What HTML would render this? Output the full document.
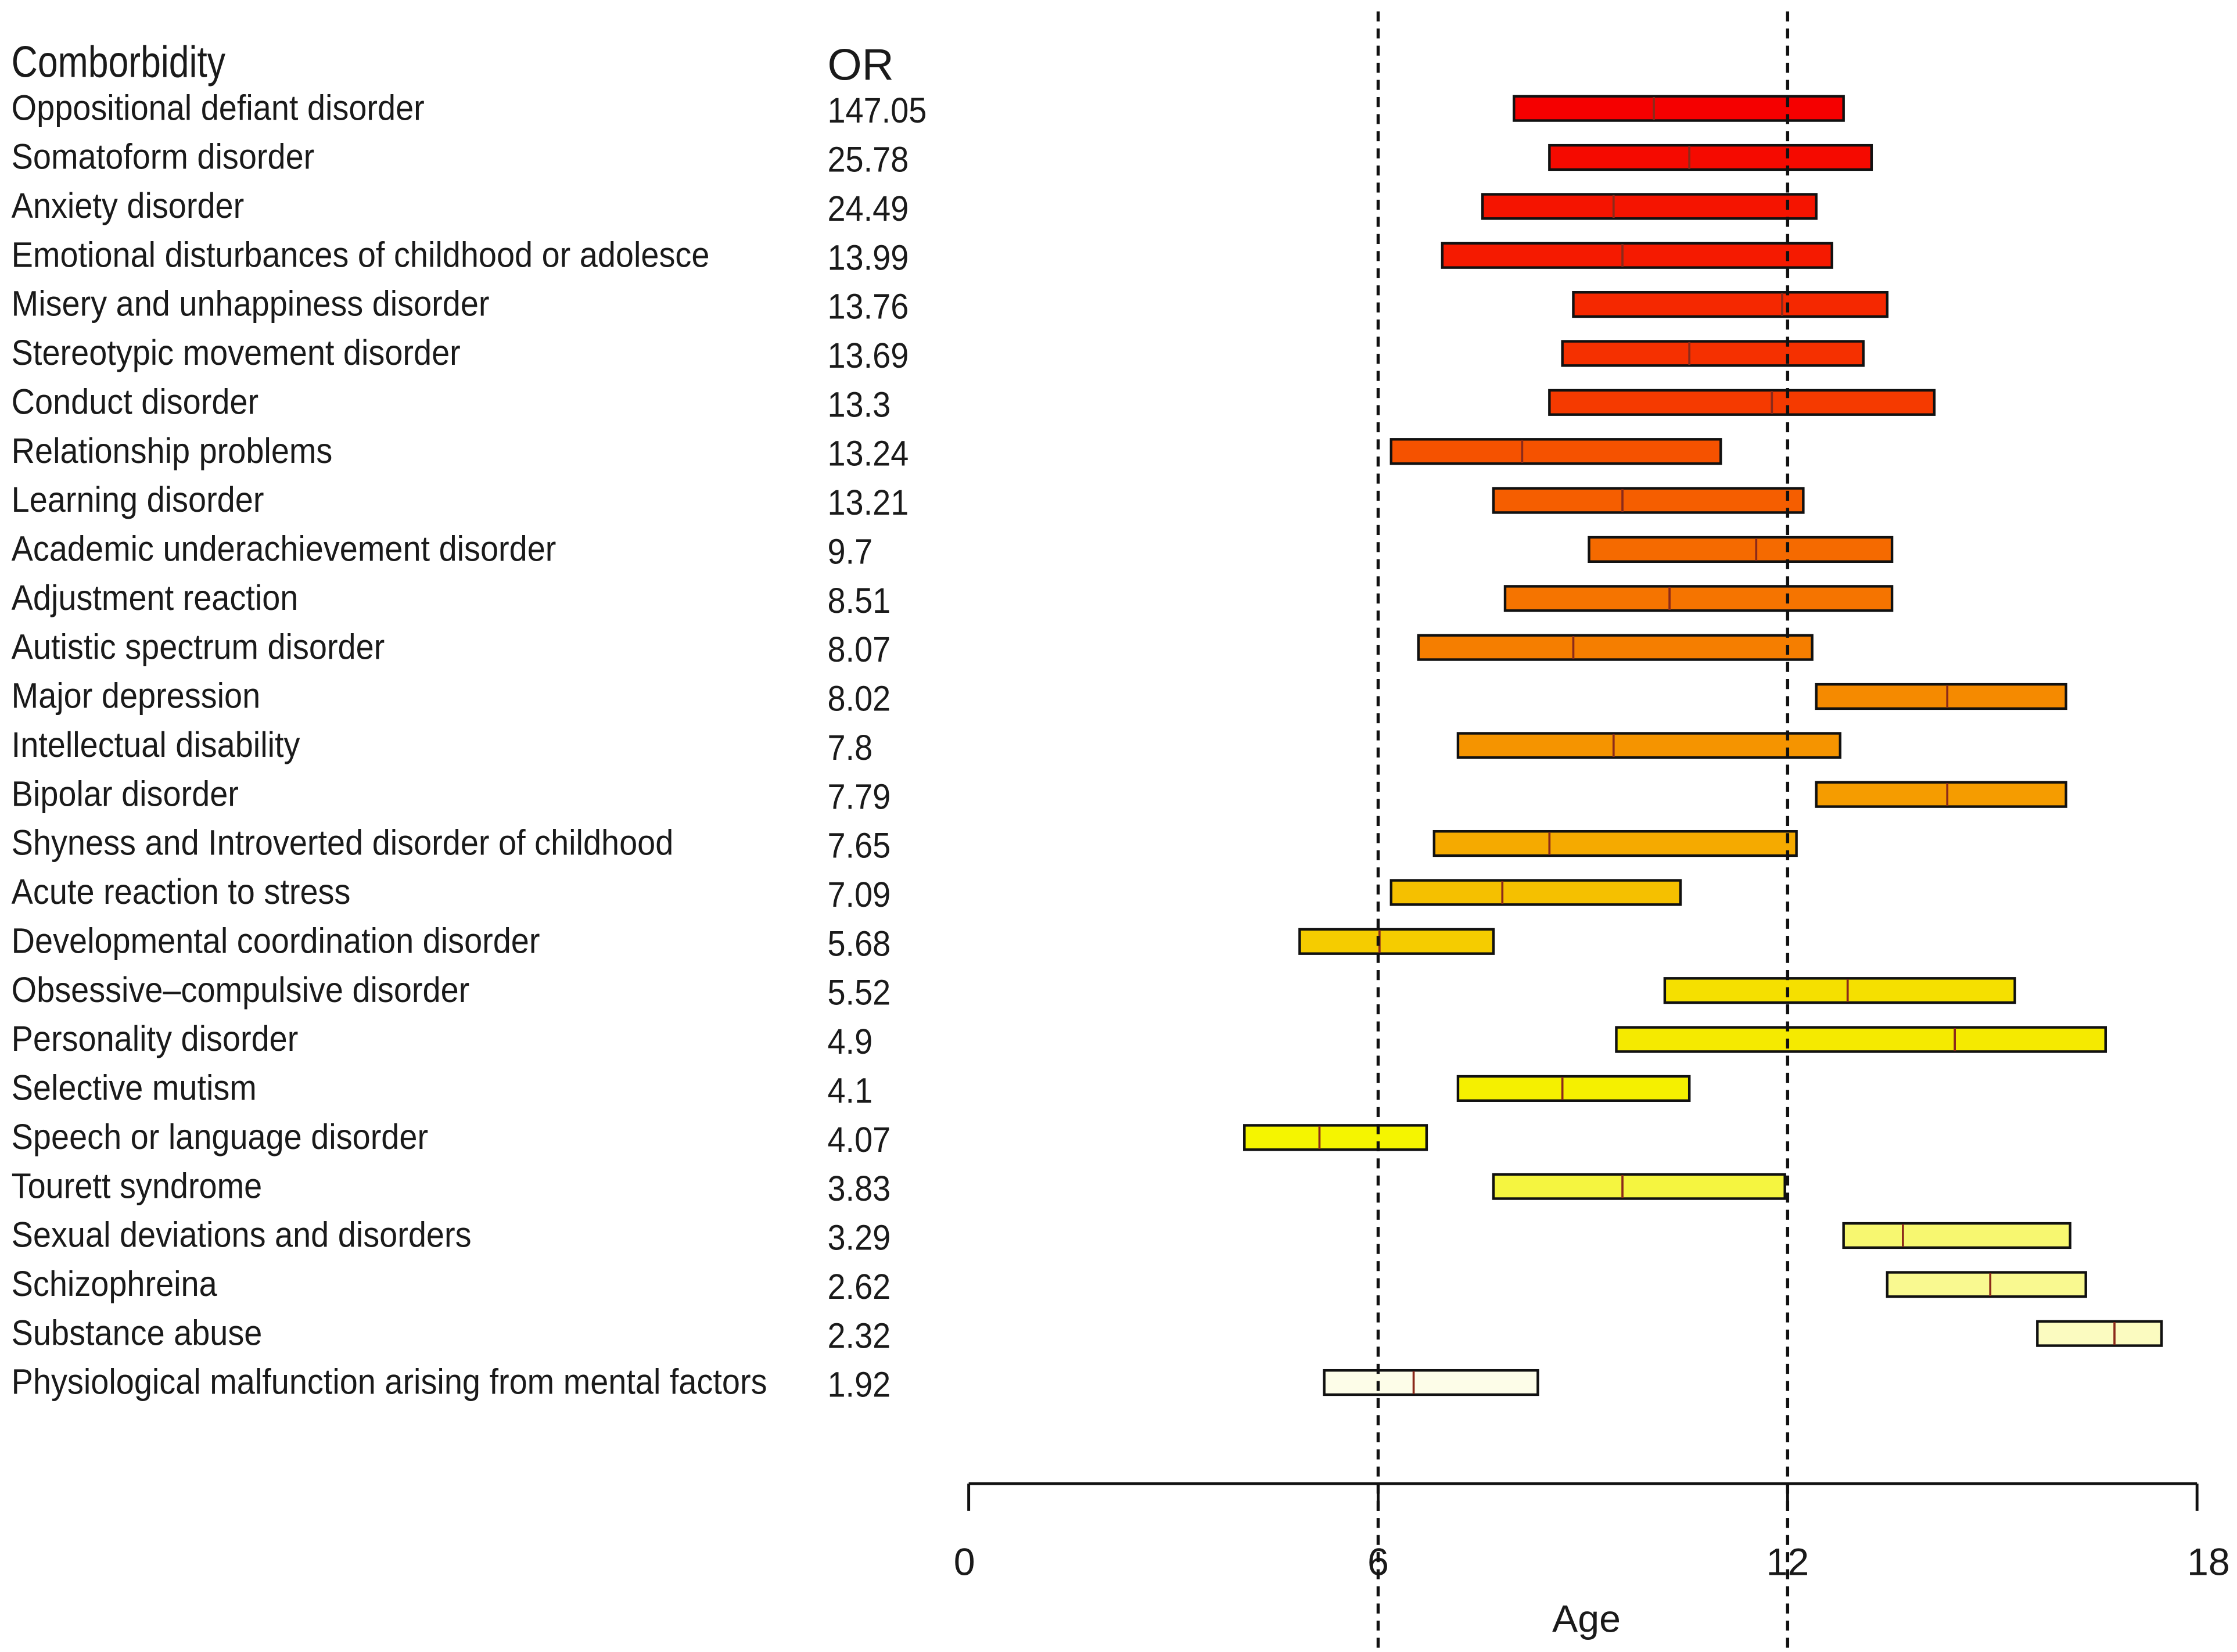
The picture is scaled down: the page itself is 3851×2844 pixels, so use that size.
<!DOCTYPE html>
<html><head><meta charset="utf-8">
<style>
html,body{margin:0;padding:0;background:#fff;}
svg{display:block;}
text{font-family:"Liberation Sans Narrow","Liberation Sans",sans-serif;fill:#1a1a1a;}
</style></head>
<body>
<svg id="chart" width="3851" height="2844" viewBox="0 0 1568 1158" xmlns="http://www.w3.org/2000/svg">
<text x="8" y="54" font-size="31" textLength="150" lengthAdjust="spacingAndGlyphs">Comborbidity</text>
<text x="580" y="56" font-size="31">OR</text>
<g id="rows"></g>
<g id="axis"></g>
</svg>
<script>
const labels=["Oppositional defiant disorder","Somatoform disorder","Anxiety disorder","Emotional disturbances of childhood or adolesce","Misery and unhappiness disorder","Stereotypic movement disorder","Conduct disorder","Relationship problems","Learning disorder","Academic underachievement disorder","Adjustment reaction","Autistic spectrum disorder","Major depression"," Intellectual disability","Bipolar disorder","Shyness and Introverted disorder of childhood","Acute reaction to stress","Developmental coordination disorder","Obsessive\u2013compulsive disorder","Personality disorder","Selective mutism","Speech or language disorder","Tourett syndrome","Sexual deviations and disorders","Schizophreina","Substance abuse","Physiological malfunction arising from mental factors"];
const orValues=["147.05","25.78","24.49","13.99","13.76","13.69","13.3","13.24","13.21","9.7","8.51","8.07","8.02","7.8","7.79","7.65","7.09","5.68","5.52","4.9","4.1","4.07","3.83","3.29","2.62","2.32","1.92"];
const startAge=[7.99,8.51,7.53,6.94,8.86,8.70,8.51,6.19,7.69,9.09,7.86,6.59,12.42,7.17,12.42,6.82,6.19,4.85,10.20,9.49,7.17,4.04,7.69,12.82,13.46,15.66,5.21];
const medianAge=[10.04,10.56,9.45,9.58,11.92,10.56,11.77,8.11,9.58,11.54,10.27,8.86,14.34,9.45,14.34,8.51,7.82,6.02,12.88,14.45,8.70,5.14,9.58,13.69,14.97,16.79,6.52];
const endAge=[12.82,13.23,12.42,12.65,13.46,13.11,14.15,11.02,12.23,13.53,13.53,12.36,16.08,12.77,16.08,12.13,10.43,7.69,15.33,16.66,10.56,6.71,11.96,16.14,16.37,17.48,8.34];
const colors=["#f50000","#f50a00","#f51400","#f51a00","#f52800","#f53000","#f53a00","#f55200","#f55e00","#f56a00","#f57400","#f57e00","#f58a00","#f59400","#f59c00","#f5aa00","#f5c000","#f5cc00","#f5e000","#f5ea00","#f5f000","#f5f500","#f5f540","#f7f770","#f9f990","#fbfbc0","#fdfde8"];
const ticks=[0,6,12,18];
const NS="http://www.w3.org/2000/svg";
const x=a=>679+a*(1540-679)/18;
const y=i=>76+i*34.35;
const SX=0.91;
function mk(t,at,parent){const e=document.createElementNS(NS,t);for(const k in at)e.setAttribute(k,at[k]);parent.appendChild(e);return e;}
const rows=document.getElementById('rows');
labels.forEach((l,i)=>{
  const g=mk('g',{},rows);
  
  
  const t=mk('text',{x:8/SX,y:y(i)+8,'font-size':25,transform:'scale('+SX+',1)'},g);
  
  
  t.textContent=l;
  const o=mk('text',{x:580/SX,y:y(i)+10,'font-size':25,transform:'scale('+SX+',1)'},g);
  
  
  o.textContent=orValues[i];
  const r=mk('rect',{x:x(startAge[i]),y:y(i)-8.5,width:x(endAge[i])-x(startAge[i]),height:17,fill:colors[i],stroke:'#111','stroke-width':1.8},g);
  
  
  const m=mk('line',{x1:x(medianAge[i]),x2:x(medianAge[i]),y1:y(i)-8,y2:y(i)+8,stroke:'#8b2a1a','stroke-width':1.5},g);
  
  
});
const ax=document.getElementById('axis');
mk('line',{x1:x(0),x2:x(18),y1:1040,y2:1040,stroke:'#111','stroke-width':2},ax);
ticks.forEach(tk=>{
  const l=mk('line',{x1:x(tk),x2:x(tk),y1:1040,y2:1059,stroke:'#111','stroke-width':2},ax);
  
  
  const t=mk('text',{x:x(tk)+(tk===18?8:tk===0?-3:0),y:1104,'font-size':27,'text-anchor':'middle'},ax);
  
  
  t.textContent=tk;
});
[6,12].forEach(v=>{
  const d=mk('line',{x1:x(v),x2:x(v),y1:8,y2:1158,stroke:'#111','stroke-width':2.2,'stroke-dasharray':'7,5'},ax);
  
  
});
const at=mk('text',{x:1112,y:1144,'font-size':27,'text-anchor':'middle'},ax);


at.textContent='Age';
</script>
</body></html>
